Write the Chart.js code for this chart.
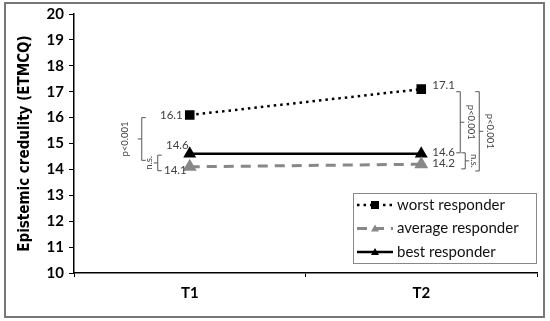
<!DOCTYPE html>
<html>
<head>
    <script src="https://cdn.jsdelivr.net/npm/chart.js"></script>
    <style>
        body { margin: 0; background: #fff; }
    </style>
</head>
<body>
    <div style="width:550px; height:321px;">
        <canvas id="credChart" width="550" height="321"></canvas>
    </div>
    <script>
        // values
        const timepoints = ['T1', 'T2'];
        const worstResponder = [16.1, 17.1];
        const averageResponder = [14.1, 14.2];
        const bestResponder = [14.6, 14.6];
        const yTicks = [10, 11, 12, 13, 14, 15, 16, 17, 18, 19, 20];

        const FONT = 'Lato, "Liberation Sans", sans-serif';
        const NARROW = '"Liberation Sans Narrow", "DejaVu Sans Condensed", sans-serif';

        // data labels, brackets, legend box and outer frame
        const annotations = {
            id: 'annotations',
            afterDraw(chart) {
                const ctx = chart.ctx;
                const x = chart.scales.x, y = chart.scales.y;
                const x1 = x.getPixelForValue(0), x2 = x.getPixelForValue(1);

                ctx.save();
                // value labels
                ctx.font = '11.5px ' + FONT;
                ctx.fillStyle = '#404040';
                ctx.textBaseline = 'middle';
                ctx.textAlign = 'right';
                ctx.fillText(worstResponder[0].toFixed(1), x1 - 7, y.getPixelForValue(worstResponder[0]));
                ctx.fillText(bestResponder[0].toFixed(1), x1 - 1, y.getPixelForValue(bestResponder[0]) - 9);
                ctx.fillText(averageResponder[0].toFixed(1), x1 - 3, y.getPixelForValue(averageResponder[0]) + 3);
                ctx.textAlign = 'left';
                ctx.fillText(worstResponder[1].toFixed(1), x2 + 11, y.getPixelForValue(worstResponder[1]) - 4);
                ctx.fillText(bestResponder[1].toFixed(1), x2 + 11, y.getPixelForValue(bestResponder[1]) - 2);
                ctx.fillText(averageResponder[1].toFixed(1), x2 + 11, y.getPixelForValue(averageResponder[1]) - 1);

                // significance brackets
                function bracket(bx, v1, v2, dir, text, tx, rot) {
                    const ya = y.getPixelForValue(v1), yb = y.getPixelForValue(v2);
                    const ym = (ya + yb) / 2;
                    ctx.strokeStyle = '#555';
                    ctx.lineWidth = 1;
                    ctx.beginPath();
                    ctx.moveTo(bx - dir * 4, ya);
                    ctx.lineTo(bx, ya);
                    ctx.lineTo(bx, yb);
                    ctx.lineTo(bx - dir * 4, yb);
                    ctx.moveTo(bx, ym);
                    ctx.lineTo(bx + dir * 4, ym);
                    ctx.stroke();
                    ctx.save();
                    ctx.translate(tx, ym);
                    ctx.rotate(rot);
                    ctx.font = '9.5px ' + FONT;
                    ctx.fillStyle = '#444';
                    ctx.textAlign = 'center';
                    ctx.textBaseline = 'middle';
                    ctx.fillText(text, 0, 0);
                    ctx.restore();
                }
                bracket(x1 - 48, 16.0, 14.35, -1, 'p<0.001', x1 - 65, -Math.PI / 2);
                bracket(x1 - 32, 14.55, 13.95, -1, 'n.s.', x1 - 41, -Math.PI / 2);
                bracket(x2 + 39, 17.0, 14.64, 1, 'p<0.001', x2 + 50, Math.PI / 2);
                bracket(x2 + 44, 14.64, 14.02, 1, 'n.s.', x2 + 53, Math.PI / 2);
                bracket(x2 + 58, 17.0, 13.94, 1, 'p<0.001', x2 + 69, Math.PI / 2);

                // legend box
                const lx = 353, ly = 193, lw = 183, lh = 70;
                ctx.fillStyle = '#fff';
                ctx.fillRect(lx, ly, lw, lh);
                ctx.strokeStyle = '#888';
                ctx.lineWidth = 1;
                ctx.strokeRect(lx + 0.5, ly + 0.5, lw, lh);
                chart.data.datasets.forEach((ds, i) => {
                    const cy = ly + 12 + i * 23.5;
                    ctx.strokeStyle = ds.borderColor;
                    ctx.lineWidth = ds.borderWidth;
                    ctx.setLineDash(ds.borderDash || []);
                    ctx.beginPath();
                    ctx.moveTo(lx + 4, cy);
                    ctx.lineTo(lx + 40, cy);
                    ctx.stroke();
                    ctx.setLineDash([]);
                    ctx.fillStyle = ds.pointBackgroundColor;
                    const mx = lx + 22;
                    if (ds.pointStyle === 'rect') {
                        ctx.fillRect(mx - 4, cy - 4, 8, 8);
                    } else {
                        ctx.beginPath();
                        ctx.moveTo(mx, cy - 4);
                        ctx.lineTo(mx + 4, cy + 3);
                        ctx.lineTo(mx - 4, cy + 3);
                        ctx.closePath();
                        ctx.fill();
                    }
                    ctx.fillStyle = '#111';
                    ctx.font = '15px ' + FONT;
                    ctx.textAlign = 'left';
                    ctx.textBaseline = 'middle';
                    ctx.fillText(ds.label, lx + 44, cy);
                });

                // outer frame
                ctx.strokeStyle = '#777';
                ctx.lineWidth = 2;
                ctx.strokeRect(5, 3, 539, 314);
                ctx.restore();
            }
        };

        const chart_data = {
            labels: timepoints,
            datasets: [{
                label: 'worst responder',
                data: worstResponder,
                borderColor: '#000',
                borderWidth: 2.5,
                borderDash: [2.5, 4],
                pointStyle: 'rect',
                pointRadius: 5,
                pointBackgroundColor: '#000',
                pointBorderColor: '#000'
            }, {
                label: 'average responder',
                data: averageResponder,
                borderColor: '#888',
                borderWidth: 3,
                borderDash: [10, 7],
                pointStyle: 'triangle',
                pointRadius: 5,
                pointBackgroundColor: '#888',
                pointBorderColor: '#888'
            }, {
                label: 'best responder',
                data: bestResponder,
                borderColor: '#000',
                borderWidth: 2.5,
                pointStyle: 'triangle',
                pointRadius: 5,
                pointBackgroundColor: '#000',
                pointBorderColor: '#000'
            }]
        };

        const config = {
            type: 'line',
            data: chart_data,
            options: {
                responsive: false,
                animation: false,
                layout: { padding: { left: 6, right: 13, top: 12, bottom: 5 } },
                plugins: {
                    legend: { display: false },
                    tooltip: { enabled: false }
                },
                scales: {
                    x: {
                        offset: true,
                        grid: { offset: true, drawOnChartArea: false, tickLength: 4, color: '#000' },
                        border: { color: '#000', width: 1.5 },
                        ticks: {
                            color: '#000',
                            padding: 7,
                            font: { family: FONT, size: 15, weight: 'bold' }
                        },
                        afterFit(scale) { scale.height = 321 - 273 - 5; }
                    },
                    y: {
                        min: 10,
                        max: 20,
                        afterBuildTicks(scale) { scale.ticks = yTicks.map(v => ({ value: v })); },
                        grid: { drawOnChartArea: false, tickLength: 5, color: '#000' },
                        border: { color: '#000', width: 1.5 },
                        ticks: {
                            color: '#000',
                            padding: 5,
                            font: { family: FONT, size: 15, weight: 'bold' }
                        },
                        title: {
                            display: true,
                            text: 'Epistemic credulity (ETMCQ)',
                            color: '#000',
                            padding: { top: 10, bottom: 0 },
                            font: { family: NARROW, size: 15, weight: 'bold' }
                        },
                        afterFit(scale) { scale.width = 74 - 6; }
                    }
                }
            },
            plugins: [annotations]
        };

        new Chart(document.getElementById('credChart'), config);
    </script>
</body>
</html>
